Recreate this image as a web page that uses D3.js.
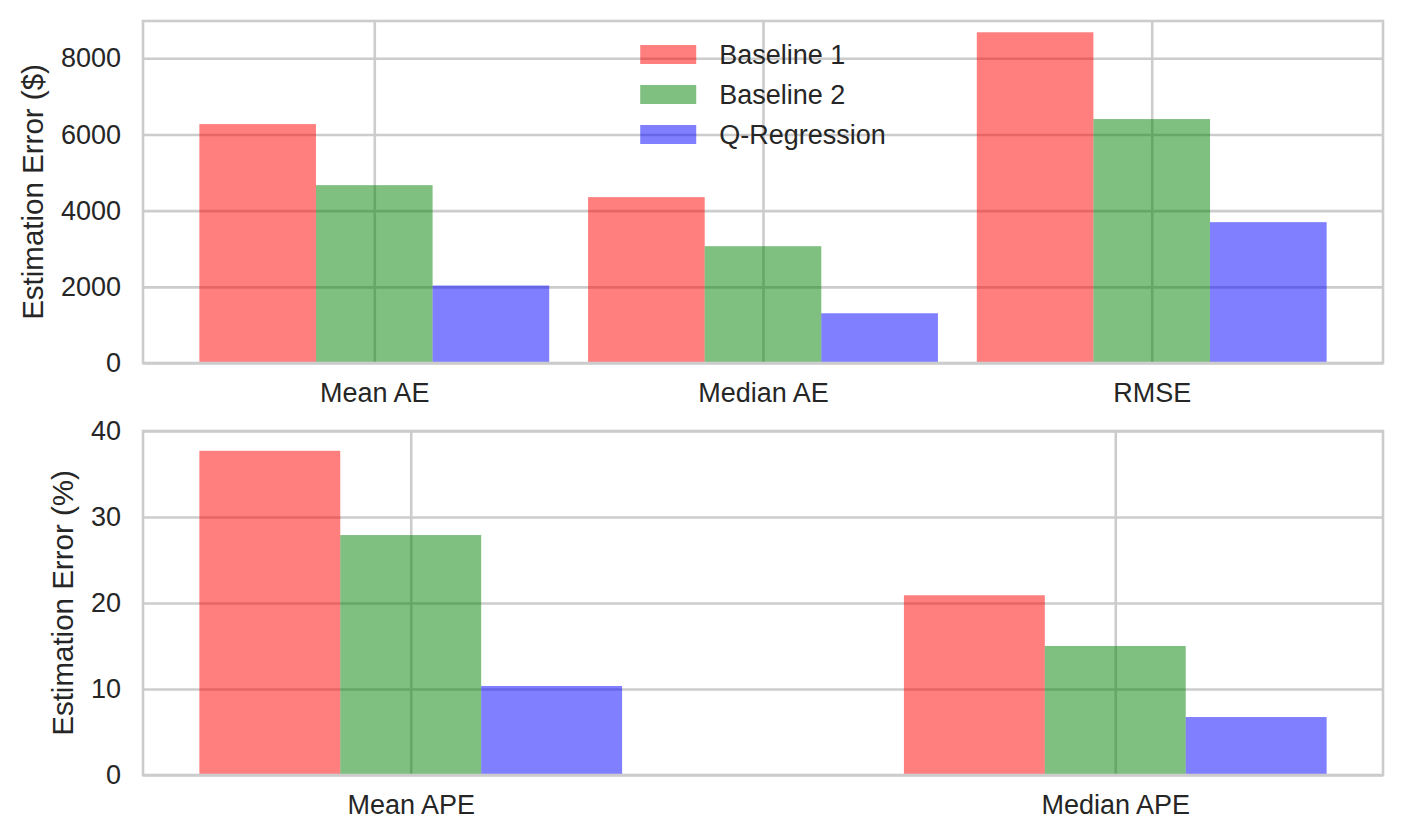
<!DOCTYPE html>
<html>
<head>
<meta charset="utf-8">
<script src="https://cdn.jsdelivr.net/npm/d3@7"></script>
<style>
  body { margin: 0; background: #fff; }
  svg { display: block; font-family: "Liberation Sans", Arial, sans-serif; }
  .grid line { stroke: #cccccc; stroke-width: 2.6; }
  .tick text { fill: #262626; font-size: 27px; }
</style>
</head>
<body>
<svg id="chart"></svg>
<script>
// top panel: absolute errors in $
const absCategories = ['Mean AE', 'Median AE', 'RMSE'];
const absBaseline1 = [6273, 4355, 8684];
const absBaseline2 = [4670, 3067, 6405];
const absQReg = [2034, 1306, 3698];
const absTicks = [0, 2000, 4000, 6000, 8000];

// bottom panel: percentage errors
const pctCategories = ['Mean APE', 'Median APE'];
const pctBaseline1 = [37.7, 20.9];
const pctBaseline2 = [27.9, 15.0];
const pctQReg = [10.35, 6.74];
const pctTicks = [0, 10, 20, 30, 40];

const seriesNames = ['Baseline 1', 'Baseline 2', 'Q-Regression'];
const seriesColors = ['#ff0000', '#008000', '#0000ff'];

const W = 1402, H = 840;
const svg = d3.select('#chart')
  .attr('width', W)
  .attr('height', H)
  .attr('viewBox', `0 0 ${W} ${H}`);

function drawPanel(opts) {
  const { left, right, top, bottom, categories, series, barWidth, yMax, ticks, label, labelX } = opts;
  const n = categories.length;
  const lo = -1.5 * barWidth, hi = (n - 1) + 1.5 * barWidth;
  const pad = (hi - lo) * 0.05;

  const x = d3.scaleLinear().domain([lo - pad, hi + pad]).range([left, right]);
  const y = d3.scaleLinear().domain([0, yMax]).range([bottom, top]);

  const g = svg.append('g');

  // grid below the bars
  g.append('g')
    .attr('class', 'grid')
    .attr('transform', `translate(${left}, 0)`)
    .call(d3.axisLeft(y).tickValues(ticks).tickSize(-(right - left)).tickFormat(''))
    .call(s => s.select('.domain').remove());

  g.append('g')
    .attr('class', 'grid')
    .attr('transform', `translate(0, ${bottom})`)
    .call(d3.axisBottom(x).tickValues(d3.range(n)).tickSize(-(bottom - top)).tickFormat(''))
    .call(s => s.select('.domain').remove());

  series.forEach((values, si) => {
    g.append('g')
      .selectAll('rect')
      .data(values)
      .enter()
      .append('rect')
      .attr('x', (v, i) => x(i + (si - 1.5) * barWidth))
      .attr('width', (v, i) => x(i + (si - 0.5) * barWidth) - x(i + (si - 1.5) * barWidth))
      .attr('y', v => y(v))
      .attr('height', v => y(0) - y(v))
      .attr('fill', seriesColors[si])
      .attr('fill-opacity', 0.5);
  });

  // spines
  g.append('rect')
    .attr('x', left)
    .attr('y', top)
    .attr('width', right - left)
    .attr('height', bottom - top)
    .attr('fill', 'none')
    .attr('stroke', '#cccccc')
    .attr('stroke-width', 2.6);

  // tick labels
  g.append('g')
    .attr('transform', `translate(${left}, 0)`)
    .call(d3.axisLeft(y).tickValues(ticks).tickSize(0).tickPadding(22).tickFormat(d3.format('d')))
    .call(s => s.select('.domain').remove());

  g.append('g')
    .attr('transform', `translate(0, ${bottom})`)
    .call(d3.axisBottom(x).tickValues(d3.range(n)).tickSize(0).tickPadding(20)
      .tickFormat(i => categories[i]))
    .call(s => s.select('.domain').remove());

  g.append('text')
    .attr('transform', `translate(${labelX}, ${(top + bottom) / 2}) rotate(-90)`)
    .attr('text-anchor', 'middle')
    .attr('fill', '#262626')
    .style('font-size', '29.5px')
    .text(label);

  return { x, y, g };
}

const topPanel = drawPanel({
  left: 143, right: 1383, top: 21, bottom: 363,
  categories: absCategories,
  series: [absBaseline1, absBaseline2, absQReg],
  barWidth: 0.3, yMax: 8980, ticks: absTicks,
  label: 'Estimation Error ($)', labelX: 43
});

drawPanel({
  left: 143, right: 1383, top: 431, bottom: 775,
  categories: pctCategories,
  series: [pctBaseline1, pctBaseline2, pctQReg],
  barWidth: 0.2, yMax: 40, ticks: pctTicks,
  label: 'Estimation Error (%)', labelX: 73
});

// legend, upper centre of the top panel, no frame
const legend = topPanel.g.append('g');
const rows = legend.selectAll('g')
  .data(seriesNames)
  .enter()
  .append('g')
  .attr('transform', (d, i) => `translate(0, ${45 + i * 40})`);

rows.append('rect')
  .attr('width', 56)
  .attr('height', 19)
  .attr('fill', (d, i) => seriesColors[i])
  .attr('fill-opacity', 0.5);

rows.append('text')
  .attr('x', 79)
  .attr('y', 9.5)
  .attr('dy', '0.35em')
  .attr('fill', '#262626')
  .style('font-size', '27px')
  .text(d => d);

const lw = legend.node().getBBox().width;
legend.attr('transform', `translate(${(143 + 1383) / 2 - lw / 2}, 0)`);
</script>
</body>
</html>
